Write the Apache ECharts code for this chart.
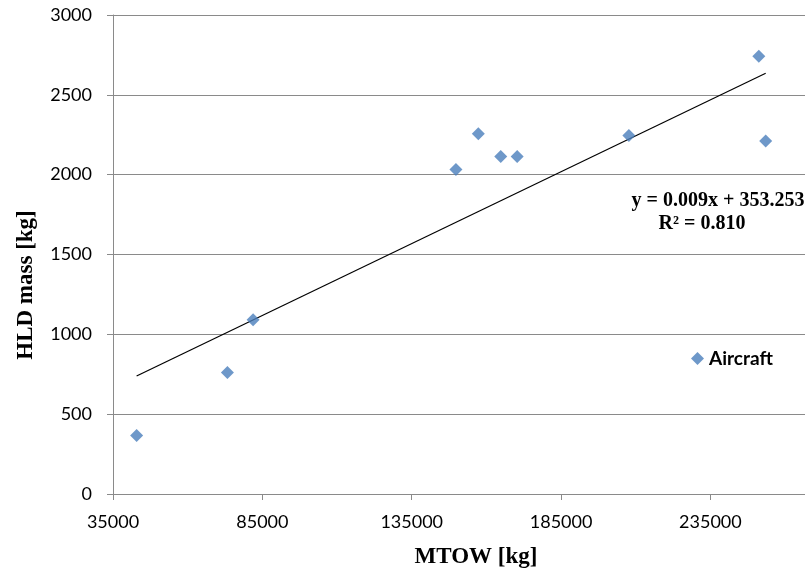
<!DOCTYPE html>
<html>
<head>
<meta charset="utf-8">
<script src="https://cdn.jsdelivr.net/npm/echarts@6/dist/echarts.min.js"></script>
<style>
html,body{margin:0;padding:0;background:#fff;}
#chart{width:805px;height:570px;}
</style>
</head>
<body>
<div id="chart"></div>
<script>
// Data
const seriesName = 'Aircraft';
const mtow = [42900, 73300, 81900, 149800, 157300, 164800, 170300, 207700, 251200, 253500];
const hldMass = [366, 761, 1091, 2032, 2257, 2114, 2114, 2245, 2741, 2211];
const trendSlope = 0.009;
const trendIntercept = 353.253;
const equationText = 'y = 0.009x + 353.253';
const r2Text = 'R² = 0.810';
const xTitle = 'MTOW [kg]';
const yTitle = 'HLD mass [kg]';
const xTicks = [35000, 85000, 135000, 185000, 235000];
const yTicks = [0, 500, 1000, 1500, 2000, 2500, 3000];

const points = mtow.map((x, i) => [x, hldMass[i]]);
const xMin = Math.min(...mtow), xMax = Math.max(...mtow);
const trend = [[xMin, trendSlope * xMin + trendIntercept], [xMax, trendSlope * xMax + trendIntercept]];

const axisGrey = '#8a8a8a';
const tickFont = 'Lato';
const serif = '"Liberation Serif"';

const chart = echarts.init(document.getElementById('chart'), null, {renderer: 'canvas'});
chart.setOption({
  animation: false,
  backgroundColor: '#ffffff',
  grid: {left: 113, right: 0, top: 15, bottom: 76, containLabel: false},
  xAxis: {
    type: 'value', min: 35000, max: 266660,
    axisLine: {show: true, lineStyle: {color: axisGrey, width: 1}},
    axisTick: {show: true, inside: false, length: 6, customValues: xTicks, lineStyle: {color: axisGrey}},
    splitLine: {show: false},
    axisLabel: {color: '#000', fontFamily: tickFont, fontSize: 18, margin: 19, customValues: xTicks,
      formatter: v => String(v)}
  },
  yAxis: {
    type: 'value', min: 0, max: 3000, interval: 500,
    axisLine: {show: true, lineStyle: {color: axisGrey, width: 1}},
    axisTick: {show: true, inside: false, length: 6, lineStyle: {color: axisGrey}},
    splitLine: {show: true, lineStyle: {color: axisGrey, width: 1}},
    axisLabel: {color: '#000', fontFamily: tickFont, fontSize: 18, margin: 21, customValues: yTicks,
      formatter: v => String(v)}
  },
  legend: {
    data: [seriesName],
    left: 691, top: 349, padding: 0,
    icon: 'diamond', itemWidth: 13, itemHeight: 13, itemGap: 0,
    textStyle: {color: '#000', fontFamily: tickFont, fontSize: 19, fontWeight: 'bold', padding: [0, 0, 0, 0]}
  },
  series: [
    {
      name: seriesName, type: 'scatter', data: points,
      symbol: 'diamond', symbolSize: 13,
      itemStyle: {color: '#4a7ebb'}, z: 3
    },
    {
      name: 'trend', type: 'line', data: trend,
      showSymbol: false, symbol: 'none', silent: true,
      lineStyle: {color: '#000', width: 1.2}, z: 2
    }
  ],
  graphic: [
    {type: 'text', x: 476, y: 557, z: 10,
     style: {text: xTitle, font: 'bold 23px ' + serif, fill: '#000', align: 'center', verticalAlign: 'middle'}},
    {type: 'text', x: 26, y: 285, rotation: Math.PI / 2, z: 10,
     style: {text: yTitle, font: 'bold 23px ' + serif, fill: '#000', align: 'center', verticalAlign: 'middle'}},
    {type: 'text', x: 718, y: 201, z: 10,
     style: {text: equationText, font: 'bold 20px ' + serif, fill: '#000', align: 'center', verticalAlign: 'middle'}},
    {type: 'text', x: 702, y: 224, z: 10,
     style: {text: r2Text, font: 'bold 20px ' + serif, fill: '#000', align: 'center', verticalAlign: 'middle'}}
  ]
});
</script>
</body>
</html>
